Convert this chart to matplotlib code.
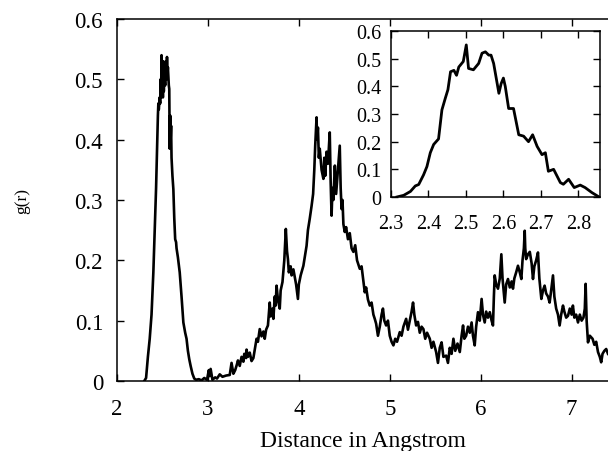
"""g(r) curve with an inset zoom on the first peak"""

import matplotlib
matplotlib.use('Agg')
import matplotlib.pyplot as plt
from matplotlib.ticker import FormatStrFormatter

plt.rcParams['font.family'] = ['Liberation Serif', 'DejaVu Serif']

# main curve
r_main = [
    2.30, 2.32, 2.34, 2.36, 2.38, 2.40, 2.42, 2.43, 2.44, 2.45, 2.455, 2.46, 2.47, 2.475, 2.48,
    2.485, 2.49, 2.495, 2.50, 2.505, 2.51, 2.515, 2.52, 2.53, 2.54, 2.545, 2.55, 2.555, 2.56, 2.57,
    2.575, 2.58, 2.585, 2.59, 2.595, 2.60, 2.61, 2.62, 2.63, 2.64, 2.65, 2.655, 2.66, 2.67, 2.69,
    2.71, 2.73, 2.75, 2.765, 2.78, 2.795, 2.81, 2.83, 2.85, 2.87, 2.90, 2.93, 2.96, 2.99, 3.01,
    3.02, 3.03, 3.05, 3.08, 3.10, 3.13, 3.16, 3.20, 3.24, 3.26, 3.28, 3.30, 3.32, 3.33, 3.35,
    3.37, 3.39, 3.40, 3.42, 3.425, 3.44, 3.46, 3.48, 3.50, 3.52, 3.535, 3.55, 3.57, 3.59, 3.61,
    3.625, 3.64, 3.66, 3.67, 3.68, 3.69, 3.71, 3.72, 3.735, 3.745, 3.755, 3.77, 3.79, 3.80, 3.82,
    3.84, 3.857, 3.87, 3.88, 3.89, 3.91, 3.92, 3.94, 3.956, 3.97, 3.99, 4.00, 4.02, 4.05, 4.07,
    4.085, 4.10, 4.12, 4.14, 4.157, 4.17, 4.18, 4.195, 4.20, 4.21, 4.22, 4.23, 4.25, 4.27, 4.28,
    4.29, 4.305, 4.32, 4.34, 4.35, 4.36, 4.37, 4.38, 4.396, 4.41, 4.43, 4.45, 4.46, 4.47, 4.48,
    4.49, 4.505, 4.52, 4.54, 4.56, 4.58, 4.60, 4.62, 4.64, 4.67, 4.69, 4.71, 4.725, 4.74, 4.76,
    4.78, 4.80, 4.82, 4.835, 4.85, 4.87, 4.89, 4.91, 4.925, 4.94, 4.96, 4.98, 5.00, 5.02, 5.04,
    5.06, 5.08, 5.11, 5.13, 5.15, 5.18, 5.20, 5.22, 5.24, 5.256, 5.27, 5.29, 5.31, 5.33, 5.35,
    5.37, 5.39, 5.41, 5.44, 5.46, 5.48, 5.51, 5.53, 5.55, 5.57, 5.59, 5.62, 5.64, 5.66, 5.68,
    5.70, 5.72, 5.745, 5.77, 5.79, 5.806, 5.82, 5.84, 5.86, 5.88, 5.90, 5.915, 5.934, 5.95, 5.97,
    5.99, 6.01, 6.025, 6.044, 6.06, 6.08, 6.10, 6.12, 6.135, 6.145, 6.154, 6.17, 6.19, 6.21, 6.227,
    6.24, 6.264, 6.28, 6.30, 6.32, 6.34, 6.355, 6.37, 6.39, 6.41, 6.43, 6.447, 6.46, 6.475, 6.484,
    6.49, 6.50, 6.52, 6.54, 6.56, 6.575, 6.59, 6.61, 6.63, 6.645, 6.667, 6.685, 6.703, 6.72, 6.74,
    6.758, 6.775, 6.795, 6.81, 6.83, 6.85, 6.868, 6.885, 6.905, 6.92, 6.94, 6.96, 6.98, 7.00, 7.014,
    7.03, 7.05, 7.07, 7.09, 7.11, 7.13, 7.145, 7.154, 7.165, 7.18, 7.20, 7.23, 7.25, 7.27, 7.29,
    7.31, 7.325, 7.34, 7.36, 7.38, 7.40,
]
g_main = [
    0.000, 0.005, 0.04, 0.07, 0.11, 0.18, 0.27, 0.32, 0.38, 0.44, 0.46, 0.45, 0.47, 0.46, 0.50,
    0.47, 0.54, 0.49, 0.52, 0.47, 0.53, 0.48, 0.51, 0.49, 0.53, 0.50, 0.537, 0.51, 0.52, 0.49,
    0.484, 0.385, 0.44, 0.40, 0.423, 0.37, 0.34, 0.318, 0.27, 0.235, 0.23, 0.22, 0.215, 0.205, 0.18,
    0.14, 0.097, 0.08, 0.07, 0.05, 0.036, 0.025, 0.012, 0.004, 0.002, 0.003, 0.001, 0.005, 0.002, 0.018,
    0.008, 0.02, 0.002, 0.006, 0.004, 0.011, 0.007, 0.009, 0.01, 0.03, 0.012, 0.018, 0.028, 0.034, 0.025,
    0.04, 0.032, 0.045, 0.038, 0.052, 0.04, 0.047, 0.033, 0.038, 0.056, 0.07, 0.065, 0.086, 0.074, 0.082,
    0.07, 0.085, 0.092, 0.11, 0.13, 0.107, 0.12, 0.103, 0.14, 0.125, 0.158, 0.135, 0.12, 0.15, 0.164,
    0.2, 0.252, 0.215, 0.202, 0.18, 0.19, 0.175, 0.185, 0.172, 0.16, 0.136, 0.16, 0.175, 0.191, 0.21,
    0.224, 0.25, 0.269, 0.29, 0.31, 0.35, 0.39, 0.437, 0.40, 0.42, 0.37, 0.385, 0.35, 0.335, 0.37,
    0.34, 0.38, 0.36, 0.412, 0.33, 0.274, 0.32, 0.30, 0.357, 0.31, 0.35, 0.39, 0.32, 0.285, 0.30,
    0.26, 0.247, 0.255, 0.235, 0.245, 0.22, 0.214, 0.225, 0.2, 0.186, 0.19, 0.165, 0.147, 0.155, 0.135,
    0.125, 0.13, 0.11, 0.103, 0.095, 0.075, 0.09, 0.11, 0.12, 0.1, 0.092, 0.1, 0.075, 0.065, 0.059,
    0.07, 0.065, 0.081, 0.075, 0.09, 0.103, 0.085, 0.1, 0.115, 0.13, 0.11, 0.092, 0.098, 0.08, 0.09,
    0.086, 0.07, 0.08, 0.07, 0.055, 0.065, 0.048, 0.03, 0.055, 0.064, 0.04, 0.042, 0.03, 0.055, 0.045,
    0.07, 0.05, 0.062, 0.048, 0.075, 0.092, 0.07, 0.075, 0.09, 0.08, 0.097, 0.075, 0.059, 0.09, 0.114,
    0.1, 0.136, 0.11, 0.097, 0.115, 0.105, 0.114, 0.1, 0.092, 0.14, 0.175, 0.16, 0.153, 0.17, 0.21,
    0.17, 0.13, 0.16, 0.169, 0.155, 0.165, 0.153, 0.17, 0.18, 0.191, 0.18, 0.169, 0.2, 0.22, 0.249,
    0.22, 0.202, 0.21, 0.214, 0.195, 0.169, 0.19, 0.2, 0.213, 0.17, 0.136, 0.15, 0.158, 0.145, 0.14,
    0.13, 0.15, 0.175, 0.14, 0.12, 0.11, 0.092, 0.11, 0.125, 0.115, 0.105, 0.108, 0.12, 0.11, 0.125,
    0.105, 0.11, 0.097, 0.11, 0.1, 0.105, 0.12, 0.161, 0.1, 0.064, 0.075, 0.07, 0.06, 0.065, 0.048,
    0.04, 0.031, 0.045, 0.05, 0.053, 0.045,
]

# inset: first peak
r_inset = [
    2.316, 2.334, 2.352, 2.365, 2.374, 2.387, 2.396, 2.405, 2.414, 2.427, 2.436, 2.445, 2.452,
    2.459, 2.468, 2.475, 2.481, 2.493, 2.501, 2.507, 2.52, 2.534, 2.543, 2.552, 2.561, 2.567,
    2.574, 2.588, 2.594, 2.60, 2.605, 2.614, 2.627, 2.641, 2.654, 2.667, 2.678, 2.69, 2.703,
    2.712, 2.72, 2.734, 2.752, 2.76, 2.774, 2.789, 2.805, 2.818, 2.836, 2.854,
]
g_inset = [
    0.0, 0.006, 0.02, 0.04, 0.045, 0.08, 0.11, 0.16, 0.19, 0.21, 0.315, 0.357, 0.388,
    0.453, 0.458, 0.44, 0.47, 0.49, 0.55, 0.465, 0.46, 0.483, 0.52, 0.525, 0.513, 0.513,
    0.483, 0.375, 0.41, 0.43, 0.4, 0.32, 0.32, 0.225, 0.22, 0.2, 0.225, 0.183, 0.153,
    0.16, 0.093, 0.1, 0.052, 0.046, 0.064, 0.034, 0.043, 0.034, 0.016, 0.001,
]

main_xticks = [2, 3, 4, 5, 6, 7]
y_ticks = [0, 0.1, 0.2, 0.3, 0.4, 0.5, 0.6]
inset_xticks = [2.3, 2.4, 2.5, 2.6, 2.7, 2.8]

fig = plt.figure(figsize=(6.08, 4.52), dpi=100)
ax = fig.add_axes([0.1924, 0.1549, 0.8076, 0.8009])
ax.plot(r_main, g_main, color='black', lw=1.9)
ax.set_xlim(2, 7.4)
ax.set_ylim(0, 0.6)
ax.set_xticks(main_xticks)
ax.set_yticks(y_ticks)
ax.yaxis.set_major_formatter(FormatStrFormatter('%g'))
ax.tick_params(direction='in', top=True, right=False, length=5, width=1,
               labelsize=16.5)
ax.tick_params(axis='x', pad=12)
ax.tick_params(axis='y', pad=10)
ax.spines['right'].set_visible(False)
for s in ['left', 'bottom', 'top']:
    ax.spines[s].set_linewidth(1.1)
ax.set_xlabel('Distance in Angstrom', fontsize=17, labelpad=8)
ax.set_ylabel('g(r)', fontsize=12.5, labelpad=32)

ins = fig.add_axes([0.643, 0.562, 0.344, 0.367])
ins.plot(r_inset, g_inset, color='black', lw=2)
ins.set_xlim(2.3, 2.858)
ins.set_ylim(0, 0.6)
ins.set_xticks(inset_xticks)
ins.set_yticks(y_ticks)
ins.yaxis.set_major_formatter(FormatStrFormatter('%g'))
ins.tick_params(direction='in', top=True, right=True, length=5, width=1,
                labelsize=14.5)
ins.tick_params(axis='x', pad=12)
ins.tick_params(axis='y', pad=7)
for s in ins.spines.values():
    s.set_linewidth(1.1)

plt.savefig('out.png', dpi=100)
